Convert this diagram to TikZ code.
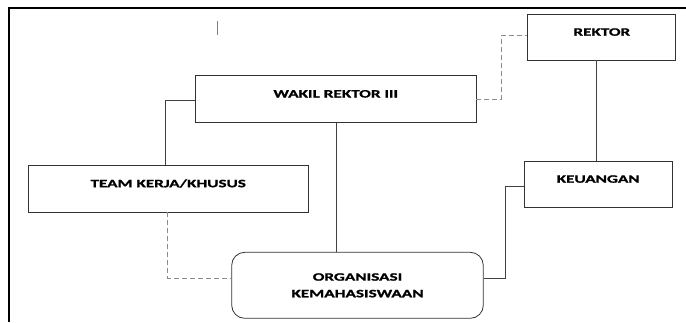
\documentclass[tikz,border=0pt]{standalone}
\usepackage{fontspec}
\newfontfamily\boxfont{Carlito}[FakeStretch=1.52, FakeBold=1.2]
\usetikzlibrary{calc,positioning}
\tikzstyle{box} = [draw=black!80, line width=0.8pt, inner sep=0pt, font=\boxfont\bfseries\fontsize{11.3}{13.6}\selectfont, text height=8pt, text depth=11pt]
\tikzstyle{link} = [draw=black!75, line width=0.8pt]
\tikzstyle{dashlink} = [draw=black!45, line width=0.8pt, dash pattern=on 5pt off 3pt]

\begin{document}
\begin{tikzpicture}[x=1pt,y=-1pt]
        \useasboundingbox [fill=white] (0,0) rectangle (686,322);
        \draw [line width=1.6pt] (9,322) -- (9,8) -- (686,8);
        \draw [black!50, line width=0.8pt] (217.7,21) -- (217.7,35);
        \node [box, minimum width=148pt, minimum height=45.7pt] (1) at (601.8,37.2) {REKTOR};
        \node [box, minimum width=280.3pt, minimum height=46.6pt] (2) at (335.8,99) {WAKIL REKTOR III};
        \node [box, minimum width=280.3pt, minimum height=46.7pt] (3) at (168.2,188.7) {TEAM KERJA/KHUSUS};
        \node [box, minimum width=148.3pt, minimum height=45.7pt] (4) at (598.2,184.2) {KEUANGAN};
        \node [box, rounded corners=13pt, align=center, text height=, text depth=, minimum width=251.6pt, minimum height=66pt] (5) at (357.5,285.3) {ORGANISASI\\[3pt] KEMAHASISWAAN};
        \draw [dashlink] (2.east) -- ++(25,0) |- ([yshift=2]1.west);
        \draw [link] ([xshift=-5.8]1.south) -- ([xshift=-5.8]1.south |- 4.north);
        \draw [link] ([yshift=-1.7]2.west) -| ([xshift=-3]3.north);
        \draw [link] ([xshift=0.9]2.south) -- ([xshift=0.9]2.south |- 5.north);
        \draw [dashlink] ([xshift=-0.5]3.south) |- ([yshift=7]5.west);
        \draw [link] ([yshift=7.4]5.east) -- ++(22,0) |- ([yshift=-2.5]4.west);
    \end{tikzpicture}
\end{document}
